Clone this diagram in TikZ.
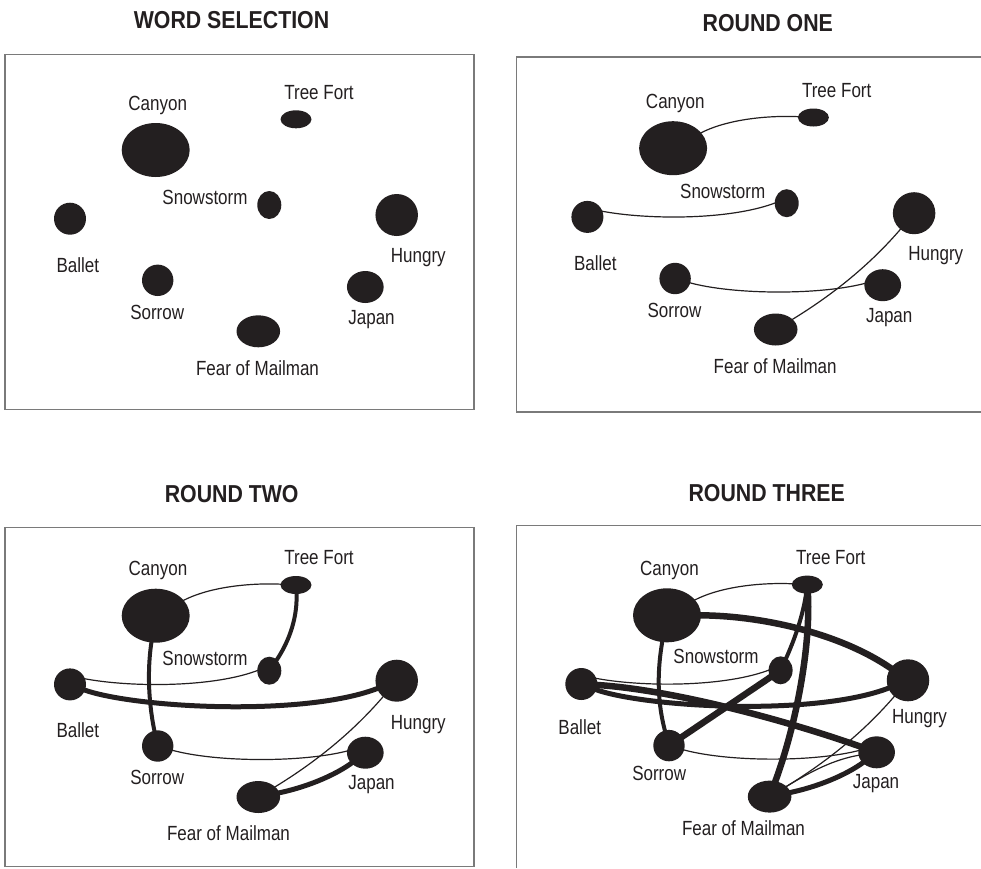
\documentclass[tikz,border=0pt]{standalone}
\usepackage{fontspec}
\newfontfamily\labfont{Liberation Sans}[FakeStretch=0.83]
\newfontfamily\ttlfont{Liberation Sans}[FakeStretch=0.87]
\usetikzlibrary{shapes.geometric}
\definecolor{ink}{HTML}{231F20}
\definecolor{frame}{HTML}{7A7A7A}
\pgfdeclarelayer{bg}
\pgfsetlayers{bg,main}
\tikzset{
  blob/.style={ellipse, fill=ink, draw=none, inner sep=0pt},
  lab/.style={font=\labfont\fontsize{20.5}{24}\selectfont, text=ink, inner sep=0pt},
  ttl/.style={font=\ttlfont\bfseries\fontsize{24.5}{28}\selectfont, text=ink, inner sep=0pt},
  frm/.style={draw=frame, line width=1.4pt},
  edgebase/.style={draw=ink, shorten <=-3pt, shorten >=-3pt},
  e1/.style={edgebase, line width=1.2pt},
  e4/.style={edgebase, line width=4pt},
  e5/.style={edgebase, line width=5pt},
  e6/.style={edgebase, line width=6.5pt}
}
\newcommand\wordnodes[1]{%
  \node[blob,minimum width=68pt,minimum height=54pt] (#1can) at (155.7,150) {};
  \node[blob,minimum width=31pt,minimum height=18pt] (#1tf) at (296,119.3) {};
  \node[blob,minimum width=24pt,minimum height=28pt] (#1snow) at (269.3,205) {};
  \node[blob,minimum width=32pt,minimum height=32pt] (#1bal) at (70,218.7) {};
  \node[blob,minimum width=42.5pt,minimum height=42pt] (#1hun) at (396.7,215) {};
  \node[blob,minimum width=31.4pt,minimum height=31.4pt] (#1sor) at (157.7,280.3) {};
  \node[blob,minimum width=36.7pt,minimum height=32pt] (#1jap) at (365.3,287) {};
  \node[blob,minimum width=43.6pt,minimum height=32pt] (#1fear) at (258.3,331.3) {};
}
\newcommand\wordlabels[9]{%
  % #1 prefix, #2..#9 positions
  \node[lab] (#1canL) at #2 {Canyon};
  \node[lab] (#1tfL) at #3 {Tree Fort};
  \node[lab] (#1snowL) at #4 {Snowstorm};
  \node[lab] (#1balL) at #5 {Ballet};
  \node[lab] (#1hunL) at #6 {Hungry};
  \node[lab] (#1sorL) at #7 {Sorrow};
  \node[lab] (#1japL) at #8 {Japan};
  \node[lab] (#1fearL) at #9 {Fear of Mailman};
}
\begin{document}
\begin{tikzpicture}[x=1pt,y=-1pt]
\useasboundingbox (0,0) rectangle (981,868);

% titles
\node[ttl] (t1) at (231.5,20.5) {WORD SELECTION};
\node[ttl] (t2) at (767.8,22.6) {ROUND ONE};
\node[ttl] (t3) at (231.7,493.8) {ROUND TWO};
\node[ttl] (t4) at (766.7,493.2) {ROUND THREE};

% frames
\draw[frm] (5,54.7) rectangle (474,409.3);
\draw[frm] (981,57) -- (516.7,57) -- (516.7,412) -- (981,412);
\draw[frm] (5,527.7) rectangle (474,866.7);
\draw[frm] (981,525.7) -- (516.7,525.7) -- (516.7,868);

% ---------- panel 1: word selection
\begin{scope}
  \wordnodes{a}
\end{scope}
\wordlabels{a}{(157.7,105.8)}{(319,92.5)}{(205,197.8)}{(77.8,264.7)}{(418.3,257.8)}{(157.2,312)}{(371.5,320)}{(257.5,368)}

% ---------- panel 2: round one
\begin{scope}[shift={(517.4,-1.8)}]
  \wordnodes{b}
  \begin{pgfonlayer}{bg}
    \draw[e1] (bcan) .. controls (210,120) and (255,117) .. (btf);
    \draw[e1] (bbal.20) .. controls (130,222) and (215,222) .. (bsnow.180);
    \draw[e1] (bsor) .. controls (215,297) and (305,297) .. (bjap.175);
    \draw[e1] (bhun) .. controls (350,270) and (310,300) .. (bfear);
  \end{pgfonlayer}
\end{scope}
\wordlabels{b}{(675.3,103.3)}{(836.7,91)}{(722.7,191.3)}{(595.3,262.8)}{(935.8,255.8)}{(674.5,310)}{(889.2,317.2)}{(775.2,365.7)}

% ---------- panel 3: round two
\begin{scope}[shift={(0,465.7)}]
  \wordnodes{c}
  \begin{pgfonlayer}{bg}
    \draw[e1] (ccan) .. controls (210,120) and (255,117) .. (ctf);
    \draw[e1] (cbal.20) .. controls (130,222) and (215,222) .. (csnow.180);
    \draw[e1] (csor) .. controls (215,297) and (305,297) .. (cjap.175);
    \draw[e1] (chun) .. controls (350,270) and (310,300) .. (cfear);
    \draw[e4] (ctf) .. controls (298,150) and (290,175) .. (csnow);
    \draw[e4] (ccan) .. controls (146,210) and (150,245) .. (csor);
    \draw[e5] (cbal) .. controls (130,242) and (305,252) .. (chun);
    \draw[e5] (cjap) .. controls (335,310) and (305,322) .. (cfear);
  \end{pgfonlayer}
\end{scope}
\wordlabels{c}{(158,570)}{(319,558)}{(205,658.3)}{(77.8,730.5)}{(418.3,724.2)}{(157.2,777.8)}{(371.5,785)}{(228.5,833.3)}

% ---------- panel 4: round three
\begin{scope}[shift={(511.3,465.3)}]
  \wordnodes{d}
  \begin{pgfonlayer}{bg}
    \draw[e1] (dcan) .. controls (210,120) and (255,117) .. (dtf);
    \draw[e1] (dbal.20) .. controls (130,222) and (215,222) .. (dsnow.180);
    \draw[e1] (dsor) .. controls (215,297) and (305,297) .. (djap.175);
    \draw[e1] (dhun) .. controls (350,270) and (310,300) .. (dfear);
    \draw[e1] (dfear) .. controls (300,306) and (322,294) .. (djap);
    \draw[e6] (dcan) .. controls (250,150) and (330,168) .. (dhun);
    \draw[e4] (dcan) .. controls (144,215) and (148,245) .. (dsor);
    \draw[e6] (dtf) .. controls (300,180) and (285,260) .. (dfear);
    \draw[e4] (dsnow) .. controls (283,175) and (292,150) .. (dtf);
    \draw[e6] (dsnow) -- (dsor);
    \draw[e6] (dbal) .. controls (160,224) and (275,255) .. (djap);
    \draw[e5] (dbal) .. controls (130,242) and (305,252) .. (dhun);
    \draw[e5] (djap) .. controls (335,310) and (305,322) .. (dfear);
  \end{pgfonlayer}
\end{scope}
\wordlabels{d}{(669.5,570)}{(830.8,558)}{(716,656.7)}{(579.7,726.7)}{(919.5,718.7)}{(659.2,773.3)}{(876,783.3)}{(743.5,828.3)}
\end{tikzpicture}
\end{document}
